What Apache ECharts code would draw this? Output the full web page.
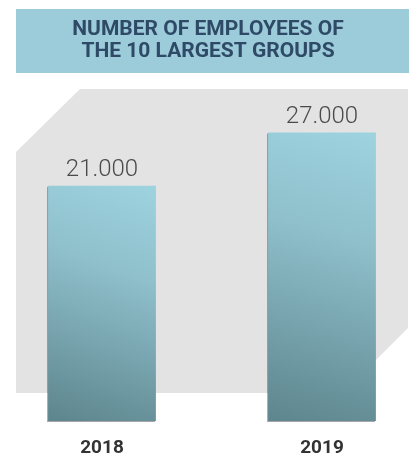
<!DOCTYPE html>
<html>
<head>
<meta charset="utf-8">
<script src="https://cdn.jsdelivr.net/npm/echarts@6/dist/echarts.min.js"></script>
<style>
html,body{margin:0;padding:0;background:#fff;}
#c{width:409px;height:458px;}
</style>
</head>
<body>
<div id="c"></div>
<script>
const titleLines = ['NUMBER OF EMPLOYEES OF', 'THE 10 LARGEST GROUPS'];
const categories = ['2018', '2019'];
const employees = [21000, 27000];
const axisMin = -5556;
const axisMax = 30000;

function fmt(v) {
  return String(Math.round(v)).replace(/\B(?=(\d{3})+(?!\d))/g, '.');
}

const chart = echarts.init(document.getElementById('c'), null, {renderer: 'canvas'});

const option = {
  animation: false,
  backgroundColor: '#ffffff',
  title: {
    text: titleLines.join('\n'),
    left: 208,
    top: 19,
    padding: 0,
    textAlign: 'center',
    textStyle: {
      fontFamily: 'Roboto',
      fontWeight: 'bold',
      fontSize: 21,
      lineHeight: 22,
      color: '#2e4a66'
    }
  },
  graphic: [
    {
      type: 'rect',
      z: 0,
      shape: {x: 16, y: 9, width: 393, height: 64},
      style: {fill: '#9ccbd9'}
    },
    {
      type: 'polygon',
      z: 0,
      shape: {points: [[80, 89], [408, 89], [408, 328], [343, 393], [16, 393], [16, 152]]},
      style: {fill: '#e3e3e3'}
    }
  ],
  grid: {left: 102, right: 87, top: 106, bottom: 32, containLabel: false},
  xAxis: {
    type: 'category',
    data: categories,
    boundaryGap: false,
    axisLine: {show: false},
    axisTick: {show: false},
    axisLabel: {
      margin: 18,
      fontFamily: 'Roboto',
      fontWeight: 'bold',
      fontSize: 19,
      color: '#333333'
    }
  },
  yAxis: {
    type: 'value',
    min: axisMin,
    max: axisMax,
    show: false,
    splitLine: {show: false}
  },
  series: [{
    type: 'custom',
    z: 5,
    clip: false,
    data: categories.map((c, i) => [i, employees[i]]),
    renderItem: function (params, api) {
      const idx = api.value(0);
      const val = api.value(1);
      const top = api.coord([idx, val]);
      const base = api.coord([idx, axisMin]);
      const band = api.size([1, 0])[0];
      const w = band * 0.49;
      const x = top[0] - w / 2;
      return {
        type: 'group',
        children: [
          {
            type: 'rect',
            shape: {x: x, y: top[1], width: w, height: base[1] - top[1]},
            style: {
              fill: new echarts.graphic.LinearGradient(0.9, 0, 0.1, 1, [
                {offset: 0, color: '#9dd2df'},
                {offset: 0.35, color: '#8fc0cc'},
                {offset: 1, color: '#5e868e'}
              ]),
              shadowColor: 'rgba(0,0,0,0.35)',
              shadowBlur: 0,
              shadowOffsetX: -1,
              shadowOffsetY: 1
            }
          },
          {
            type: 'text',
            x: top[0],
            y: top[1] - 4,
            style: {
              text: fmt(val),
              align: 'center',
              verticalAlign: 'bottom',
              fontFamily: 'Roboto',
              fontWeight: 300,
              fontSize: 24,
              fill: '#4a4a4a'
            }
          }
        ]
      };
    }
  }]
};

chart.setOption(option);
</script>
</body>
</html>
